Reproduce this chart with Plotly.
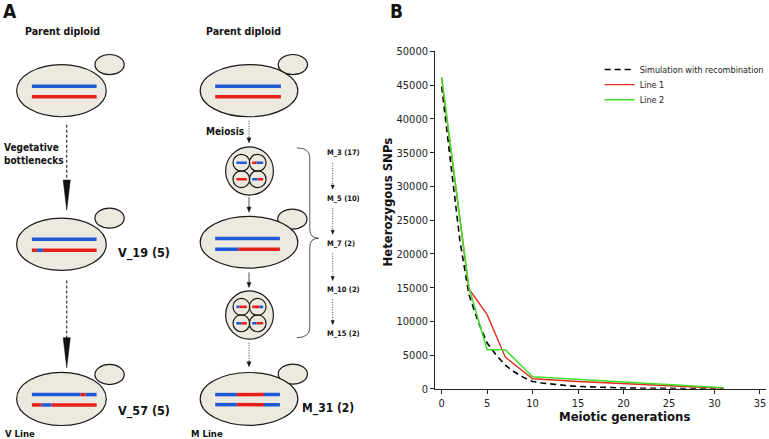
import plotly.graph_objects as go

# panel B data
sim_gen = [0, 1, 2, 3, 4, 5, 6, 7, 8, 9, 10, 11, 12, 13, 14, 15,
           16, 17, 18, 19, 20, 21, 22, 23, 24, 25, 26, 27, 28, 29, 30, 31]
sim_snps = [44800, 33000, 22000, 14000, 10000, 6800, 5000, 3500, 2500, 1700, 1100, 880, 700, 560, 450, 360,
            300, 250, 200, 160, 130, 110, 90, 75, 60, 50, 40, 30, 25, 20, 15, 10]
line_gen = [0, 3, 5, 7, 10, 15, 31]
line1_snps = [46000, 14800, 11000, 4700, 1500, 1100, 100]
line2_snps = [46200, 15000, 5800, 5800, 1800, 1400, 150]
series_names = ["Simulation with recombination", "Line 1", "Line 2"]
y_ticks = [0, 5000, 10000, 15000, 20000, 25000, 30000, 35000, 40000, 45000, 50000]
x_ticks = [0, 5, 10, 15, 20, 25, 30, 35]

W, H = 769, 448
# the photo squeezes the page a little vertically: screen_y = TOP + SQ * page_y
TOP, SQ = 6.7, 0.967
FONT = "DejaVu Sans Condensed, Liberation Sans, Arial"
BLUE = "#1f5bd6"
RED = "#e8201c"
FILL = "#ece9e1"
EDGE = "#1a1a1a"


def py(t):
    # paper fraction for a target screen row
    return 1 - ((t - TOP) / SQ) / H


fig = go.Figure()

fig.add_trace(go.Scatter(x=sim_gen, y=sim_snps, mode="lines", name=series_names[0], legend="legend",
                         line=dict(color="black", width=1.6, dash="6px,4px")))
fig.add_trace(go.Scatter(x=line_gen, y=line1_snps, mode="lines", name=series_names[1], legend="legend2",
                         line=dict(color="#e52a20", width=1.4)))
fig.add_trace(go.Scatter(x=line_gen, y=line2_snps, mode="lines", name=series_names[2], legend="legend3",
                         line=dict(color="#3de02a", width=1.5)))

shapes = []
annos = []


def ell(x0, y0, x1, y1, fill=FILL, w=1.2):
    shapes.append(dict(type="circle", xref="x2", yref="y2", x0=x0, y0=y0, x1=x1, y1=y1,
                       fillcolor=fill, line=dict(color=EDGE, width=w), layer="above"))


def seg(x0, x1, y, color, w=3.5):
    shapes.append(dict(type="line", xref="x2", yref="y2", x0=x0, x1=x1, y0=y, y1=y,
                       line=dict(color=color, width=w)))


def chrom(y, parts, w=3.5):
    # parts: list of (x_start, x_end, colour)
    for a, b, c in parts:
        seg(a, b, y, c, w)


def cell(cx, cy, rx, ry, bx, by):
    ell(bx - 14.7, by - 10, bx + 14.7, by + 10)
    ell(cx - rx, cy - ry, cx + rx, cy + ry)


def arrow(x, y0, y1, dash, w, hw, hl):
    shapes.append(dict(type="line", xref="x2", yref="y2", x0=x, x1=x, y0=y0, y1=y1 - hl + 1,
                       line=dict(color="#222", width=w, dash=dash)))
    shapes.append(dict(type="path", xref="x2", yref="y2",
                       path=f"M {x - hw},{y1 - hl} L {x + hw},{y1 - hl} L {x},{y1} Z",
                       fillcolor="#111", line=dict(color="#111", width=0.5)))


def text(x, y, s, size, anchor="left", bold=True):
    annos.append(dict(xref="x2", yref="y2", x=x, y=y, text=f"<b>{s}</b>" if bold else s,
                      showarrow=False, xanchor=anchor, yanchor="middle",
                      font=dict(family=FONT, size=size, color="#111"), align="left"))


def tetrad(cx, cy, segs):
    ell(cx - 24, cy - 24, cx + 24, cy + 24)
    offs = [(-8.2, -8.2), (8.2, -8.2), (-8.2, 8.2), (8.2, 8.2)]
    for (dx, dy), parts in zip(offs, segs):
        ell(cx + dx - 8.4, cy + dy - 8.4, cx + dx + 8.4, cy + dy + 8.4, fill="rgba(0,0,0,0)")
        for a, b, c in parts:
            seg(cx + dx + a, cx + dx + b, cy + dy, c, 2.6)


# V line
cell(61.7, 91, 45, 26, 110, 65)
chrom(86.7, [(32, 97, BLUE)])
chrom(97, [(32, 97, RED)])
arrow(67, 125, 210, "3px,2px", 1.1, 3.6, 30)
cell(61.7, 244, 45, 26, 110, 218)
chrom(239, [(32, 97, BLUE)])
chrom(250, [(32, 37, RED), (37, 43, BLUE), (43, 97, RED)])
arrow(67, 280, 367, "3px,2px", 1.1, 3.6, 30)
cell(61.7, 398, 45, 26.5, 110, 373.7)
chrom(393.7, [(32, 81, BLUE), (81, 86, RED), (86, 97, BLUE)])
chrom(404, [(32, 41.7, RED), (41.7, 51.7, BLUE), (51.7, 97, RED)])

# M line
cell(250, 91, 49, 26, 294, 65)
chrom(86.7, [(216, 282, BLUE)])
chrom(97, [(216, 282, RED)])
arrow(250, 121, 143, "1px,1.5px", 0.9, 2, 5)
tetrad(250.5, 171, [[(-5, 5.5, BLUE)], [(-5.5, -1, RED), (-1, 5.5, BLUE)],
                    [(-5, 5.5, RED)], [(-5.5, 0, BLUE), (0, 5.5, RED)]])
arrow(250, 197, 212, "solid", 0.8, 2, 5)
cell(250, 242, 49, 25.7, 293.5, 219)
chrom(238.3, [(216, 281, BLUE)])
chrom(249, [(216, 239.3, BLUE), (239.3, 281, RED)])
arrow(250, 272, 287, "solid", 0.8, 2, 5)
tetrad(250.5, 314.5, [[(-5, -2, BLUE), (-2, 5.5, RED)], [(-5.5, 2, RED), (2, 5.5, BLUE)],
                      [(-5, 0, BLUE), (0, 5.5, RED)], [(-5.5, -1, BLUE), (-1, 5.5, RED)]])
arrow(250, 342, 366, "1px,1.5px", 0.9, 2, 5)
cell(250, 398, 49, 26.3, 294, 373.3)
chrom(393.7, [(216, 237.7, BLUE), (237.7, 265, RED), (265, 281, BLUE)])
chrom(403.7, [(216, 237.7, BLUE), (237.7, 265, RED), (265, 281, BLUE)])

# bracket and generation labels
shapes.append(dict(type="path", xref="x2", yref="y2",
                   path="M 298,148 Q 311,148 311,158 L 311,229 Q 311,238 320,238 "
                        "Q 311,238 311,247 L 311,327 Q 311,337 298,337",
                   line=dict(color="#555", width=1)))
m_labels = [("M_3 (17)", 153), ("M_5 (10)", 198), ("M_7 (2)", 243), ("M_10 (2)", 289), ("M_15 (2)", 333)]
for s, y in m_labels:
    text(326.5, y, s, 7.5)
for (s, y), (s2, y2) in zip(m_labels[:-1], m_labels[1:]):
    arrow(334, y + 10, y2 - 9, "1px,1.5px", 0.8, 1.6, 4)

text(10, 12, "A", 19, "center")
text(63, 32, "Parent diploid", 10.5, "center")
text(244, 32, "Parent diploid", 10.5, "center")
text(2, 154, "Vegetative<br>bottlenecks", 10)
text(205, 132, "Meiosis", 10)
text(116, 253, "V_19 (5)", 12.5)
text(116, 410, "V_57 (5)", 12.5)
text(301, 408, "M_31 (2)", 12)
text(3, 432, "V Line", 9.5)
text(190, 432, "M Line", 9.5)

# panel B labels
for s, x, y, size, angle in [("B", 398, 12, 19, 0), ("Heterozygous SNPs", 389, 202, 13, -90),
                             ("Meiotic generations", 627, 416, 13, 0)]:
    annos.append(dict(xref="paper", yref="paper", x=x / W, y=py(y), text=f"<b>{s}</b>",
                      xanchor="center", yanchor="middle", showarrow=False, textangle=angle,
                      font=dict(family=FONT, size=size, color="#111")))

axis_style = dict(showline=True, linecolor="#222", linewidth=1.2, ticks="outside", ticklen=4,
                  tickcolor="#222", showgrid=False, zeroline=False, tickformat="d",
                  tickfont=dict(family=FONT, size=11, color="#222"))


def leg(y):
    return dict(x=602 / W, y=py(y), xanchor="left", yanchor="middle", bgcolor="rgba(0,0,0,0)",
                font=dict(family=FONT, size=9, color="#222"), itemwidth=30)


fig.update_layout(
    width=W, height=H,
    margin=dict(l=0, r=0, t=0, b=0),
    paper_bgcolor="white", plot_bgcolor="white",
    showlegend=True,
    legend=leg(70), legend2=leg(85), legend3=leg(100),
    xaxis=dict(domain=[437 / W, 769 / W], range=[-0.7, 35.66], tickvals=x_ticks, anchor="y",
               **axis_style),
    yaxis=dict(domain=[py(388), py(52)], range=[0, 50000], tickvals=y_ticks, anchor="x",
               **axis_style),
    xaxis2=dict(domain=[0, 430 / W], range=[0, 430], visible=False, anchor="y2"),
    yaxis2=dict(domain=[0, 1], range=[TOP + SQ * H, TOP], visible=False, anchor="x2"),
    shapes=shapes,
    annotations=annos,
)

fig.write_html(
    "out.html",
    config={"displayModeBar": False},
    post_script="document.documentElement.style.overflow='hidden';document.body.style.margin='0';"
                "var d=document.getElementById('{plot_id}');d.style.position='fixed';"
                "d.style.left='0px';d.style.top='0px';",
)
